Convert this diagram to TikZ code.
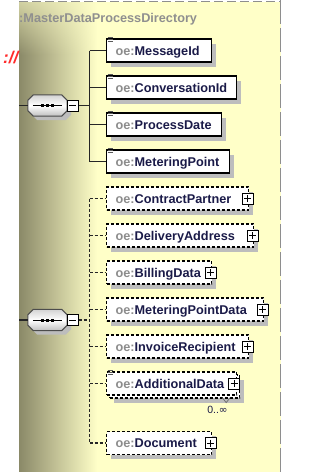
\documentclass[tikz,border=0pt]{standalone}
\usepackage{fontspec}
\setmainfont{Liberation Sans}
\newfontfamily\infinityfont{DejaVu Sans}
\usetikzlibrary{fadings,shadows,calc}
\definecolor{panel}{HTML}{FFFFC8}
\definecolor{olive}{HTML}{8A8968}
\definecolor{shadowgray}{HTML}{BDBDBD}
\definecolor{prefixgray}{HTML}{8C8C8C}
\definecolor{namenavy}{HTML}{1A1A48}
\definecolor{bordergray}{HTML}{8E8E8E}
\definecolor{titlegray}{HTML}{8F8F8F}
\definecolor{linkred}{HTML}{FF2A2A}
\tikzfading[name=topfade, top color=transparent!0, bottom color=transparent!100]
\newcommand\eltext[2]{\makebox[#1][l]{\textcolor{prefixgray}{oe:}\textcolor{namenavy}{#2}}}
\begin{document}
\begin{tikzpicture}[x=1pt,y=-1pt,
  every node/.style={font=\fontsize{12.7}{14}\selectfont\bfseries},
  conn/.style={draw=black!85, line width=1.1pt},
  dconn/.style={conn, dash pattern=on 3pt off 2pt},
  elem/.style={draw=black, line width=1.2pt, fill=white, minimum height=23pt, inner xsep=9pt, inner ysep=0pt, text height=9.2pt, text depth=0pt, anchor=west},
  optelem/.style={elem, dash pattern=on 3pt off 2pt},
  shad/.style={general shadow={fill=shadowgray, shadow xshift=4.5pt, shadow yshift=-4.5pt}},
  plusbox/.style={draw=black, solid, line width=1pt, fill=white, minimum size=11pt, inner sep=0pt,
    path picture={\draw[line width=1pt] ([xshift=2pt]path picture bounding box.west) -- ([xshift=-2pt]path picture bounding box.east);
                  \draw[line width=1pt] ([yshift=-2pt]path picture bounding box.north) -- ([yshift=2pt]path picture bounding box.south);}},
  minusbox/.style={draw=black, line width=1pt, fill=white, minimum size=11pt, inner sep=0pt,
    path picture={\draw[line width=1pt] ([xshift=2pt]path picture bounding box.west) -- ([xshift=-2pt]path picture bounding box.east);}},
  seqbox/.style={minimum width=39pt, minimum height=21pt, inner sep=0pt},
  octpath/.style={insert path={([shift={(5.5,0)}]#1.north west) -- ([shift={(-5.5,0)}]#1.north east) -- ([shift={(0,5.5)}]#1.north east) -- ([shift={(0,-5.5)}]#1.south east) -- ([shift={(-5.5,0)}]#1.south east) -- ([shift={(5.5,0)}]#1.south west) -- ([shift={(0,-5.5)}]#1.south west) -- ([shift={(0,5.5)}]#1.north west) -- cycle}},
  icon/.style={draw=black!65, line width=0.8pt}
]
\useasboundingbox (0,0) rectangle (322,472);
% background panel
\fill[white] (0,0) rectangle (322,472);
\fill[panel] (19,2) rectangle (281,472);
\shade[left color=olive, right color=panel] (19,2) rectangle (97,472);
\fill[panel, path fading=topfade, fill opacity=0.6] (19,2) rectangle (100,55);
\draw[bordergray, line width=1pt, dash pattern=on 9pt off 4pt] (19,1.5) -- (281,1.5);
\draw[bordergray, line width=1.3pt, dash pattern=on 24pt off 4pt] (280.5,0) -- (280.5,472);
% texts at the top
\node[anchor=base west, inner sep=0pt, text=titlegray] (title) at (19,22) {:MasterDataProcessDirectory};
\node[anchor=base east, inner sep=0pt, text=linkred, font=\fontsize{17}{19}\selectfont\bfseries\itshape] (link) at (18.5,63) {://};

% ---------- compositors ----------
\node[seqbox] (s1) at (47.5,105.5) {};
\node[seqbox] (s2) at (47.5,320) {};
\foreach \s in {s1,s2}{
  \fill[shadowgray, transform canvas={shift={(4pt,-4pt)}}] [octpath=\s];
  \draw[draw=black!70, line width=1pt, top color=gray!35, bottom color=gray!50, middle color=white] [octpath=\s];
  \draw[line width=1pt] ([xshift=5pt]\s.west) -- ([xshift=-5pt]\s.east);
  \foreach \dx in {-5,0,5}{\fill ([shift={(\dx-1.5,-1.5)}]\s.center) rectangle ++(3,3);}
}
\node[minusbox] (m1) at (72.5,105.5) {};
\node[minusbox] (m2) at (72.5,320) {};

% ---------- group 1 ----------
\node[elem,shad] (msg) at (106,50.5) {\eltext{87pt}{MessageId}};
\node[elem,shad] (conv) at (106,87.5) {\eltext{112pt}{ConversationId}};
\node[elem,shad] (pdate) at (106,124.5) {\eltext{97pt}{ProcessDate}};
\node[elem,shad] (mpoint) at (106,161.5) {\eltext{105pt}{MeteringPoint}};
\foreach \n in {msg,conv,pdate,mpoint}{
  \foreach \dy in {0,2,4}{\draw[icon] ([shift={(1.5,\dy-1)}]\n.north west) -- ++(5.5,0);}
}
\coordinate (in1) at (19,105.5);
\draw[conn] (in1) -- (s1.west);
\draw[conn] (m1.east) -- ++(11,0) coordinate (j1);
\draw[conn] (j1 |- msg.west) -- (j1 |- mpoint.west);
\foreach \n in {msg,conv,pdate,mpoint}{\draw[conn] (j1 |- \n.west) -- (\n.west);}

% ---------- group 2 ----------
\node[optelem,shad] (cp) at (106,198.5) {\eltext{124pt}{ContractPartner}};
\node[optelem,shad] (da) at (106,235.5) {\eltext{129pt}{DeliveryAddress}};
\node[optelem,shad] (bd) at (106,272.5) {\eltext{87pt}{BillingData}};
\node[optelem,shad] (mpd) at (106,309.5) {\eltext{139pt}{MeteringPointData}};
\node[optelem,shad] (ir) at (106,346.5) {\eltext{124pt}{InvoiceRecipient}};
\node[optelem,shad] (adback) at (109,386.5) {\phantom{\eltext{112pt}{AdditionalData}}};
\node[optelem] (ad) at (106,383.5) {\eltext{112pt}{AdditionalData}};
\node[optelem,shad] (doc) at (106,443) {\eltext{87pt}{Document}};
\foreach \dy in {0,2,4}{\draw[icon] ([shift={(1.5,\dy-1)}]ad.north west) -- ++(5.5,0);}
\foreach \n in {cp,da,bd,mpd,ir,doc}{\node[plusbox] (\n plus) at ([xshift=-1.5pt]\n.east) {};}
\node[plusbox] (adplus) at ([xshift=-3pt]ad.east) {};
\coordinate (in2) at (19,320);
\draw[conn] (in2) -- (s2.west);
\draw[dconn] (m2.east) -- ++(11,0) coordinate (j2);
\draw[dconn] (j2 |- cp.west) -- (j2 |- doc.west);
\foreach \n in {cp,da,bd,mpd,ir,ad,doc}{\draw[dconn] (j2 |- \n.west) -- (\n.west);}
% occurrence mark
\coordinate (notch) at ([shift={(-14,4)}]adback.south east);
\draw[black!55, line width=0.8pt] ([shift={(-4,-5)}]notch) -- (notch) -- ([shift={(4,-5)}]notch);
\node[font=\fontsize{10.5}{12}\selectfont, text=namenavy, inner sep=0pt] (occ) at (217.5,410) {0..{\infinityfont ∞}};
\end{tikzpicture}
\end{document}
